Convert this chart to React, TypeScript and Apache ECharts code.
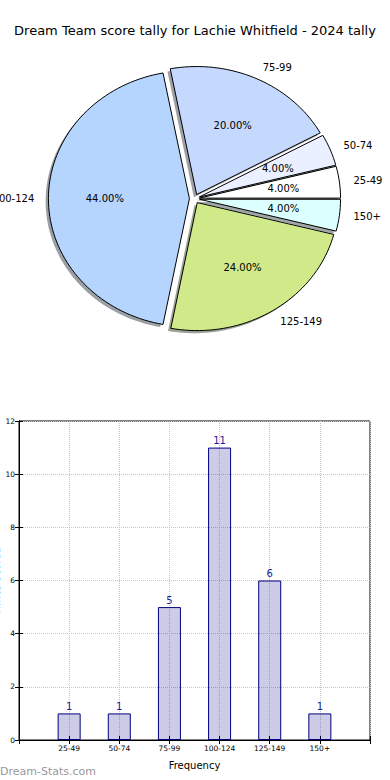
import React, { useEffect, useRef } from "react";
import * as echarts from "echarts";

const chartTitle = "Dream Team score tally for Lachie Whitfield - 2024 tally";
const categories = ["25-49", "50-74", "75-99", "100-124", "125-149", "150+"];
const counts = [1, 1, 5, 11, 6, 1];
const sliceColors = ["#ffffff", "#eaf0ff", "#c5d9ff", "#b5d5ff", "#d0ea8a", "#dcffff"];
const yTicks = { min: 0, max: 12, interval: 2 };
const xLabel = "Frequency";
const yLabel = "Times Scored";
const watermark = "Dream-Stats.com";

const FONT = "'DejaVu Sans', 'Noto Sans', sans-serif";

// pie layout (ellipse, as in the reference)
const PIE_CX = 194.5;
const PIE_CY = 198.7;
const RX = 141;
const RY = 128;
const EXPLODE = 0.036;

function sliceGeom(i: number) {
  const total = counts.reduce((a, b) => a + b, 0);
  let before = 0;
  for (let k = 0; k < i; k++) before += counts[k];
  const t1 = (before / total) * Math.PI * 2;
  const t2 = ((before + counts[i]) / total) * Math.PI * 2;
  const mid = (t1 + t2) / 2;
  const cx = PIE_CX + EXPLODE * RX * Math.cos(mid);
  const cy = PIE_CY - EXPLODE * RY * Math.sin(mid);
  const pts: number[][] = [[cx, cy]];
  const steps = Math.max(4, Math.ceil(((t2 - t1) / (Math.PI * 2)) * 180));
  for (let s = 0; s <= steps; s++) {
    const t = t1 + ((t2 - t1) * s) / steps;
    pts.push([cx + RX * Math.cos(t), cy - RY * Math.sin(t)]);
  }
  return { pts, cx, cy, mid, pct: (counts[i] / total) * 100 };
}

function shadowColor(hex: string) {
  const r = parseInt(hex.slice(1, 3), 16);
  const g = parseInt(hex.slice(3, 5), 16);
  const b = parseInt(hex.slice(5, 7), 16);
  return `rgba(${Math.round(r * 0.3)},${Math.round(g * 0.3)},${Math.round(b * 0.3)},0.5)`;
}

export default function App() {
  const ref = useRef<HTMLDivElement>(null);
  useEffect(() => {
    if (!ref.current) return;
    const chart = echarts.init(ref.current, undefined, { renderer: "svg" });
    const option: any = {
      animation: false,
      backgroundColor: "#ffffff",
      textStyle: { fontFamily: FONT },
      title: {
        text: chartTitle,
        left: "center",
        top: 19,
        textStyle: { fontSize: 13, fontWeight: "normal", color: "#000", fontFamily: FONT },
      },
      grid: {
        left: 19,
        right: 20,
        top: 421,
        bottom: 40,
        show: true,
        borderColor: "#000",
        borderWidth: 1,
        backgroundColor: "transparent",
      },
      xAxis: [
        {
          type: "value",
          min: 0,
          max: 7,
          interval: 1,
          position: "bottom",
          axisLine: { show: true, lineStyle: { color: "#000", width: 1 } },
          axisTick: { show: true, inside: true, length: 4, lineStyle: { color: "#000" } },
          axisLabel: {
            fontSize: 7.5,
            color: "#000",
            margin: 4,
            fontFamily: FONT,
            formatter: (v: number) => categories[v - 1] ?? "",
          },
          splitLine: { show: true, lineStyle: { color: "#c4c4c4", type: "dotted", width: 1 } },
          name: xLabel,
          nameLocation: "middle",
          nameGap: 20,
          nameTextStyle: { fontSize: 10, color: "#000", fontFamily: FONT },
        },
        {
          type: "value",
          min: 0,
          max: 7,
          interval: 1,
          position: "top",
          axisLine: { show: true, lineStyle: { color: "#000", width: 1 } },
          axisTick: { show: true, inside: true, length: 4, lineStyle: { color: "#000" } },
          axisLabel: { show: false },
          splitLine: { show: false },
        },
      ],
      yAxis: [
        {
          type: "value",
          min: yTicks.min,
          max: yTicks.max,
          interval: yTicks.interval,
          position: "left",
          axisLine: { show: true, lineStyle: { color: "#000", width: 1 } },
          axisTick: { show: true, inside: true, length: 4, lineStyle: { color: "#000" } },
          axisLabel: { fontSize: 7.5, color: "#000", margin: 4, fontFamily: FONT },
          splitLine: { show: true, lineStyle: { color: "#c4c4c4", type: "dotted", width: 1 } },
        },
        {
          type: "value",
          min: yTicks.min,
          max: yTicks.max,
          interval: yTicks.interval,
          position: "right",
          axisLine: { show: true, lineStyle: { color: "#000", width: 1 } },
          axisTick: { show: true, inside: true, length: 4, lineStyle: { color: "#000" } },
          axisLabel: { show: false },
          splitLine: { show: false },
        },
      ],
      graphic: [
        {
          type: "text",
          x: -4,
          y: 581,
          rotation: Math.PI / 2,
          style: {
            text: yLabel,
            fontSize: 10,
            fontFamily: FONT,
            fill: "#000",
            align: "center",
            verticalAlign: "middle",
          },
        },
        {
          type: "text",
          x: 0,
          y: 771,
          style: {
            text: watermark,
            fontSize: 11,
            fontFamily: FONT,
            fill: "#999999",
            align: "left",
            verticalAlign: "middle",
          },
        },
      ],
      series: [
        {
          type: "custom",
          coordinateSystem: "none",
          data: counts,
          silent: true,
          z: 1,
          renderItem: (params: any) => {
            const g = sliceGeom(params.dataIndex);
            return {
              type: "polygon",
              shape: { points: g.pts.map((p) => [p[0] - 2.8, p[1] + 2.6]) },
              style: { fill: shadowColor(sliceColors[params.dataIndex]), stroke: "none" },
            };
          },
        },
        {
          type: "custom",
          coordinateSystem: "none",
          data: counts,
          silent: true,
          z: 2,
          renderItem: (params: any) => {
            const i = params.dataIndex;
            const g = sliceGeom(i);
            const c = Math.cos(g.mid);
            const s = Math.sin(g.mid);
            return {
              type: "group",
              children: [
                {
                  type: "polygon",
                  shape: { points: g.pts },
                  style: { fill: sliceColors[i], stroke: "#000", lineWidth: 1 },
                },
                {
                  type: "text",
                  style: {
                    text: categories[i],
                    x: g.cx + 1.1 * RX * c,
                    y: g.cy - 1.1 * RY * s,
                    align: c > 0 ? "left" : "right",
                    verticalAlign: "middle",
                    fontSize: 10,
                    fontFamily: FONT,
                    fill: "#000",
                  },
                },
                {
                  type: "text",
                  style: {
                    text: g.pct.toFixed(2) + "%",
                    x: g.cx + 0.6 * RX * c,
                    y: g.cy - 0.6 * RY * s,
                    align: "center",
                    verticalAlign: "middle",
                    fontSize: 10,
                    fontFamily: FONT,
                    fill: "#000",
                  },
                },
              ],
            };
          },
        },
        {
          type: "bar",
          xAxisIndex: 0,
          yAxisIndex: 0,
          data: counts.map((c, i) => [i + 1, c]),
          barWidth: 23,
          itemStyle: { color: "rgba(0,0,128,0.2)", borderColor: "#000080", borderWidth: 1 },
          label: {
            show: true,
            position: "top",
            distance: 2,
            fontSize: 10,
            color: "#1a1a9a",
            fontFamily: FONT,
            formatter: (p: any) => String(p.value[1]),
          },
        },
      ],
    };
    chart.setOption(option);
    return () => chart.dispose();
  }, []);
  return (
    <div
      ref={ref}
      style={{ position: "fixed", left: 0, top: 0, width: 390, height: 780, background: "#fff" }}
    />
  );
}
